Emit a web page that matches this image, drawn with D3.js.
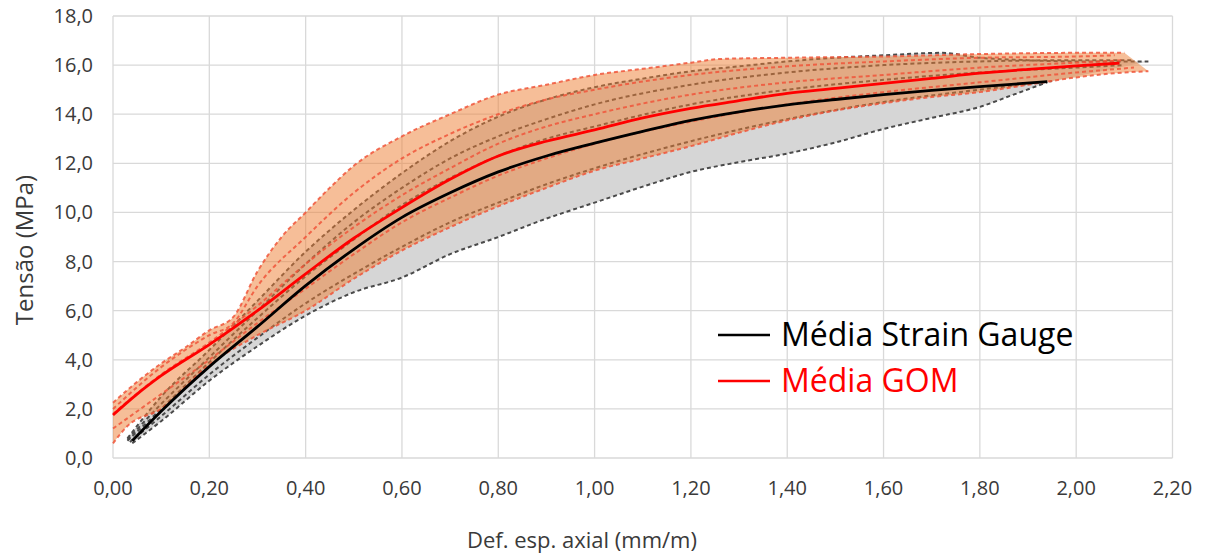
<!DOCTYPE html>
<html>
<head>
<meta charset="utf-8">
<script src="https://cdn.jsdelivr.net/npm/d3@7"></script>
<style>
  html, body { margin: 0; padding: 0; background: #fff; }
  svg { display: block; font-family: "Open Sans", "Noto Sans", sans-serif; }
</style>
</head>
<body>
<svg id="chart" width="1208" height="555"></svg>
<script>
// Axis ticks
const xTicks = [0, 0.2, 0.4, 0.6, 0.8, 1.0, 1.2, 1.4, 1.6, 1.8, 2.0, 2.2];
const yTicks = [0, 2, 4, 6, 8, 10, 12, 14, 16, 18];

// Individual strain-gauge specimens [strain (mm/m), stress (MPa)]
const sg1 = [[0.04,0.6],[0.1,1.5],[0.2,3.15],[0.3,4.55],[0.4,5.8],[0.5,6.75],[0.6,7.35],[0.7,8.3],[0.8,9.0],[0.9,9.75],[1.0,10.4],[1.1,11.05],[1.2,11.65],[1.3,12.05],[1.4,12.4],[1.5,12.85],[1.6,13.4],[1.7,13.85],[1.8,14.3],[1.87,14.8],[1.94,15.3]];
const sg2 = [[0.035,0.65],[0.1,1.7],[0.2,3.4],[0.3,4.9],[0.4,6.3],[0.5,7.5],[0.6,8.6],[0.7,9.6],[0.8,10.4],[0.9,11.15],[1.0,11.8],[1.2,12.9],[1.4,13.8],[1.6,14.5],[1.8,15.0],[1.95,15.35]];
const sg3 = [[0.03,0.7],[0.1,2.0],[0.2,3.9],[0.3,5.7],[0.4,7.4],[0.5,8.9],[0.6,10.3],[0.7,11.4],[0.8,12.3],[0.9,13.0],[1.0,13.5],[1.2,14.4],[1.4,15.0],[1.6,15.4],[1.8,15.7],[2.0,15.9],[2.1,16.0]];
const sg4 = [[0.03,0.75],[0.1,2.2],[0.2,4.1],[0.3,6.0],[0.4,7.9],[0.5,9.6],[0.6,11.0],[0.7,12.2],[0.8,13.1],[0.9,13.8],[1.0,14.4],[1.2,15.2],[1.4,15.7],[1.6,16.0],[1.8,16.15],[2.0,16.2],[2.12,16.2]];
const sg5 = [[0.03,0.8],[0.1,2.5],[0.2,4.4],[0.3,6.4],[0.4,8.4],[0.5,10.1],[0.6,11.6],[0.7,12.9],[0.8,13.9],[0.9,14.6],[1.0,15.1],[1.1,15.45],[1.2,15.75],[1.3,15.95],[1.4,16.15],[1.5,16.3],[1.6,16.4],[1.72,16.5],[1.8,16.3],[1.9,16.2],[2.0,16.15],[2.15,16.15]];

// Individual GOM (optical) specimens
const gom1 = [[0.0,0.6],[0.03,1.3],[0.1,2.0],[0.2,3.8],[0.3,5.0],[0.4,6.0],[0.5,7.3],[0.6,8.45],[0.7,9.4],[0.8,10.25],[0.9,11.0],[1.0,11.7],[1.1,12.2],[1.2,12.7],[1.3,13.25],[1.4,13.75],[1.5,14.15],[1.6,14.45],[1.7,14.7],[1.8,14.9],[1.9,15.2],[2.0,15.5],[2.1,15.7],[2.15,15.75]];
const gom2 = [[0.0,1.2],[0.1,2.6],[0.2,4.0],[0.3,5.5],[0.4,6.9],[0.5,8.3],[0.6,9.6],[0.7,10.6],[0.8,11.5],[0.9,12.2],[1.0,12.8],[1.2,13.7],[1.4,14.4],[1.6,14.9],[1.8,15.3],[2.0,15.7],[2.12,15.9]];
const gom3 = [[0.0,1.8],[0.1,3.4],[0.2,4.7],[0.3,6.2],[0.4,7.9],[0.5,9.4],[0.6,10.7],[0.7,11.8],[0.8,12.8],[0.9,13.5],[1.0,14.0],[1.2,14.8],[1.4,15.3],[1.6,15.6],[1.8,15.9],[2.0,16.1],[2.1,16.2]];
const gom4 = [[0.0,2.0],[0.1,3.7],[0.2,5.0],[0.25,5.5],[0.3,7.0],[0.4,9.0],[0.5,10.8],[0.6,12.2],[0.7,13.2],[0.8,14.0],[0.9,14.6],[1.0,15.0],[1.2,15.6],[1.4,15.95],[1.6,16.15],[1.8,16.3],[2.0,16.35],[2.08,16.4]];
const gom5 = [[0.0,2.25],[0.05,3.1],[0.1,3.85],[0.15,4.5],[0.2,5.2],[0.25,5.75],[0.3,7.6],[0.35,9.0],[0.4,10.0],[0.45,11.0],[0.5,11.9],[0.6,13.1],[0.7,14.0],[0.8,14.8],[0.9,15.2],[1.0,15.6],[1.1,15.85],[1.2,16.1],[1.26,16.25],[1.4,16.3],[1.6,16.35],[1.8,16.45],[2.0,16.5],[2.1,16.5]];

// Mean curves
const meanSG = [[0.04,0.7],[0.1,1.9],[0.2,3.72],[0.3,5.35],[0.4,7.02],[0.5,8.5],[0.6,9.8],[0.7,10.8],[0.8,11.65],[0.9,12.3],[1.0,12.82],[1.1,13.3],[1.2,13.75],[1.3,14.1],[1.4,14.38],[1.5,14.6],[1.6,14.8],[1.7,14.97],[1.8,15.12],[1.94,15.33]];
const meanGOM = [[0.0,1.75],[0.05,2.6],[0.1,3.35],[0.2,4.62],[0.3,6.0],[0.4,7.5],[0.5,8.95],[0.6,10.2],[0.7,11.35],[0.8,12.3],[0.9,12.9],[1.0,13.36],[1.1,13.85],[1.2,14.24],[1.3,14.55],[1.4,14.85],[1.5,15.05],[1.6,15.26],[1.7,15.46],[1.8,15.67],[1.9,15.83],[2.0,15.97],[2.09,16.08]];

const seriesNames = ["Média Strain Gauge", "Média GOM"];
const xTitle = "Def. esp. axial (mm/m)";
const yTitle = "Tensão (MPa)";

const svg = d3.select("#chart");
const x = d3.scaleLinear().domain([0, 2.2]).range([113, 1172.5]);
const y = d3.scaleLinear().domain([0, 18]).range([458, 16]);
const fmt = (d, n) => d.toFixed(n).replace(".", ",");

// Grid
const grid = svg.append("g").attr("stroke", "#d9d9d9").attr("stroke-width", 1.3);
grid.selectAll("line.v").data(xTicks).join("line")
  .attr("x1", d => x(d)).attr("x2", d => x(d)).attr("y1", y(0)).attr("y2", y(18));
grid.selectAll("line.h").data(yTicks).join("line")
  .attr("y1", d => y(d)).attr("y2", d => y(d)).attr("x1", x(0)).attr("x2", x(2.2));

const line = d3.line().x(d => x(d[0])).y(d => y(d[1])).curve(d3.curveMonotoneX);
const ring = d3.line().x(d => x(d[0])).y(d => y(d[1])).curve(d3.curveLinearClosed);
const smooth = pts => {
  // densify a specimen curve along its monotone spline for a clean band outline
  const p = svg.append("path").attr("d", line(pts)).attr("visibility", "hidden");
  const node = p.node(), len = node.getTotalLength(), out = [];
  for (let s = 0; s <= len; s += 2) { const q = node.getPointAtLength(s); out.push([x.invert(q.x), y.invert(q.y)]); }
  const q = node.getPointAtLength(len); out.push([x.invert(q.x), y.invert(q.y)]);
  p.remove();
  return out;
};

// Envelope bands
svg.append("path")
  .attr("d", ring(smooth(sg5).concat(smooth(sg1).reverse())))
  .attr("fill", "#d6d6d6");
const sgCurves = [sg1, sg2, sg3, sg4, sg5];
svg.append("g").selectAll("path").data(sgCurves).join("path")
  .attr("d", line).attr("fill", "none")
  .attr("stroke", "#4a4a4a").attr("stroke-width", 2).attr("stroke-dasharray", "4,3");

svg.append("path")
  .attr("d", ring(smooth(gom5).concat(smooth(gom1).reverse())))
  .attr("fill", "rgb(237,125,49)").attr("fill-opacity", 0.5);
const gomCurves = [gom1, gom2, gom3, gom4, gom5];
svg.append("g").selectAll("path").data(gomCurves).join("path")
  .attr("d", line).attr("fill", "none")
  .attr("stroke", "#f0553a").attr("stroke-opacity", 0.85).attr("stroke-width", 2).attr("stroke-dasharray", "4,3");

// Means
svg.append("path").attr("d", line(meanSG)).attr("fill", "none").attr("stroke", "#000").attr("stroke-width", 2.8);
svg.append("path").attr("d", line(meanGOM)).attr("fill", "none").attr("stroke", "#ff0000").attr("stroke-width", 2.8);

// Tick labels
svg.append("g").selectAll("text").data(yTicks).join("text")
  .attr("x", 93).attr("y", d => y(d)).attr("dy", "0.35em")
  .attr("text-anchor", "end").attr("font-size", 20).attr("fill", "#3a3a3a")
  .text(d => fmt(d, 1));
svg.append("g").selectAll("text").data(xTicks).join("text")
  .attr("x", d => x(d)).attr("y", 495)
  .attr("text-anchor", "middle").attr("font-size", 20).attr("fill", "#3a3a3a")
  .text(d => fmt(d, 2));

// Axis titles
svg.append("text").attr("x", 582).attr("y", 548).attr("text-anchor", "middle")
  .attr("font-size", 22).attr("fill", "#3a3a3a").text(xTitle);
svg.append("text").attr("transform", "translate(33,250) rotate(-90)").attr("text-anchor", "middle")
  .attr("font-size", 24).attr("fill", "#3a3a3a").text(yTitle);

// Legend
const legend = svg.append("g");
const colors = ["#000", "#ff0000"];
seriesNames.forEach((name, i) => {
  const ly = 335 + i * 46;
  legend.append("line").attr("x1", 718).attr("x2", 770).attr("y1", ly).attr("y2", ly)
    .attr("stroke", colors[i]).attr("stroke-width", 2.4);
  legend.append("text").attr("x", 781).attr("y", ly).attr("dy", "0.35em")
    .attr("font-size", 32).attr("fill", colors[i]).text(name);
});
</script>
</body>
</html>
